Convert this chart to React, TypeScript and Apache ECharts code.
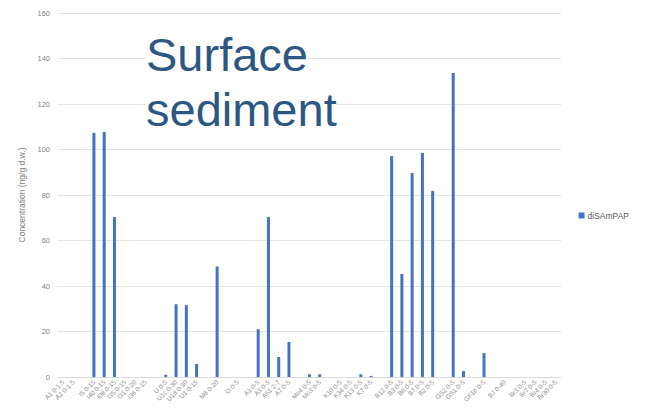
import React, { useEffect, useRef } from "react";
import * as echarts from "echarts";

const categories: string[] = [
  "A1 0-1.5", "A2 0-1.5", " ", "I5 0-15", "I40 0-15", "I08 0-15", "I35 0-15", "I31 0-20", "I36 0-15", "  ",
  "U 0-5", "U1c 0-30", "U1d 0-30", "U1 0-15", "   ", "M8 0-20", "    ", "O 0-5", "     ",
  "A1 0-5", "A3 0-5", "A51 2-7", "A7 0-5", "      ", "Mo4 0-5", "Mo3 0-5", "       ",
  "K10 0-5", "K34 0-5", "K13 0-5", "K7 0-5", "        ",
  "B12 0-5", "B3 0-5", "B6 0-5", "B7 0-5", "B2 0-5", "         ", "GS2 0-5", "GS1 0-5", "          ",
  "GF1b 0-5", "           ", "BJ 0-40", "            ", "Br3 0-5", "Br7 0-5", "Br4 0-5", "Br30 0-5",
];

const diSAmPAP: number[] = [
  0, 0, 0, 107.3, 107.7, 70.3, 0, 0, 0, 0,
  1, 32, 31.6, 5.7, 0, 48.6, 0, 0, 0,
  21, 70.3, 8.8, 15.4, 0, 1.2, 1.2, 0,
  0, 0, 1.2, 0.5, 0,
  97.1, 45.3, 89.7, 98.5, 81.8, 0, 133.6, 2.6, 0,
  10.5, 0, 0, 0, 0, 0, 0, 0,
];

const titleLines: string[] = ["Surface", "sediment"];

const yTicks = { min: 0, max: 160, interval: 20 };

export default function App() {
  const ref = useRef<HTMLDivElement>(null);
  useEffect(() => {
    if (!ref.current) return;
    const chart = echarts.init(ref.current, null, { renderer: "svg" });
    chart.setOption({
      animation: false,
      textStyle: { fontFamily: "Liberation Sans, Arial, sans-serif" },
      grid: { left: 58, right: 89, top: 13, bottom: 34 },
      legend: {
        show: true,
        data: ["diSAmPAP"],
        right: 16,
        top: 206,
        orient: "vertical",
        icon: "rect",
        itemWidth: 6,
        itemHeight: 6,
        itemGap: 4,
        textStyle: { fontSize: 8.5, color: "#595959", padding: [0, 0, 0, -2] },
      },
      xAxis: {
        type: "category",
        data: categories,
        boundaryGap: true,
        axisLine: { lineStyle: { color: "#d9d9d9" } },
        axisTick: { show: false },
        axisLabel: { rotate: 45, interval: 0, fontSize: 6.5, color: "#8c8c8c", margin: 4 },
      },
      yAxis: {
        type: "value",
        min: yTicks.min,
        max: yTicks.max,
        interval: yTicks.interval,
        name: "Concentration (ng/g d.w.)",
        nameLocation: "middle",
        nameGap: 30,
        nameTextStyle: { fontSize: 8.5, color: "#808080" },
        axisLine: { show: false },
        axisTick: { show: false },
        axisLabel: { fontSize: 7.5, color: "#808080", margin: 8 },
        splitLine: { lineStyle: { color: "#e3e3e3" } },
      },
      series: [
        {
          name: "diSAmPAP",
          type: "bar",
          data: diSAmPAP,
          barWidth: 3,
          itemStyle: { color: "#4472C4" },
        },
      ],
      graphic: titleLines.map((t, i) => ({
        type: "text",
        left: 146,
        top: 31 + i * 55,
        z: 10,
        style: {
          text: t,
          fontSize: 47,
          lineHeight: 47,
          fontFamily: "Liberation Sans, Arial, sans-serif",
          fill: "#2C5784",
          backgroundColor: "#ffffff",
        },
      })),
    });
    return () => chart.dispose();
  }, []);
  return <div ref={ref} style={{ width: 650, height: 411, position: "absolute", left: 0, top: 0 }} />;
}
